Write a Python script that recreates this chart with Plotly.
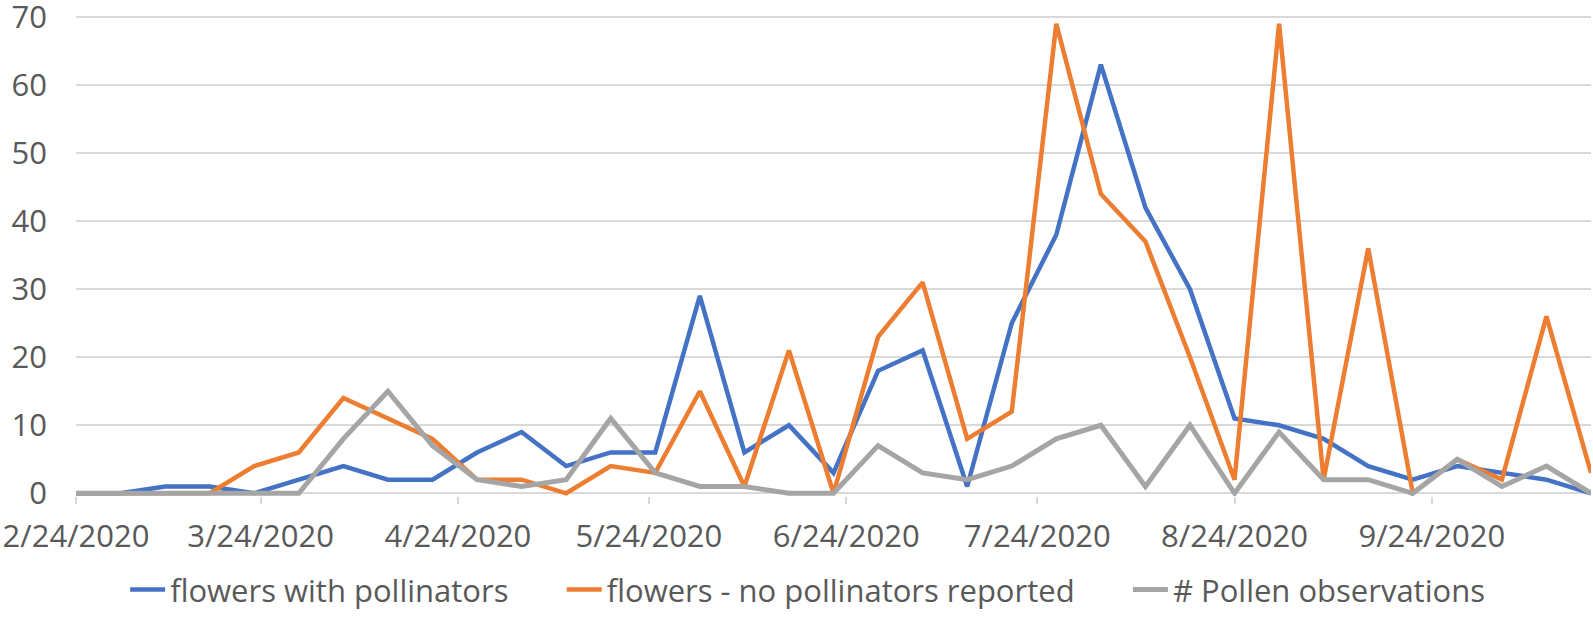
import plotly.graph_objects as go

dates = ["2020-02-24", "2020-03-02", "2020-03-09", "2020-03-16", "2020-03-23", "2020-03-30",
         "2020-04-06", "2020-04-13", "2020-04-20", "2020-04-27", "2020-05-04", "2020-05-11",
         "2020-05-18", "2020-05-25", "2020-06-01", "2020-06-08", "2020-06-15", "2020-06-22",
         "2020-06-29", "2020-07-06", "2020-07-13", "2020-07-20", "2020-07-27", "2020-08-03",
         "2020-08-10", "2020-08-17", "2020-08-24", "2020-08-31", "2020-09-07", "2020-09-14",
         "2020-09-21", "2020-09-28", "2020-10-05", "2020-10-12", "2020-10-19"]

with_pollinators = [0, 0, 1, 1, 0, 2, 4, 2, 2, 6, 9, 4, 6, 6, 29, 6, 10, 3, 18, 21,
                    1, 25, 38, 63, 42, 30, 11, 10, 8, 4, 2, 4, 3, 2, 0]
no_pollinators = [0, 0, 0, 0, 4, 6, 14, 11, 8, 2, 2, 0, 4, 3, 15, 1, 21, 0, 23, 31,
                  8, 12, 69, 44, 37, 20, 2, 69, 2, 36, 0, 5, 2, 26, 3]
pollen_obs = [0, 0, 0, 0, 0, 0, 8, 15, 7, 2, 1, 2, 11, 3, 1, 1, 0, 0, 7, 3,
              2, 4, 8, 10, 1, 10, 0, 9, 2, 2, 0, 5, 1, 4, 0]

tick_dates = ["2020-02-24", "2020-03-24", "2020-04-24", "2020-05-24",
              "2020-06-24", "2020-07-24", "2020-08-24", "2020-09-24"]
tick_labels = ["2/24/2020", "3/24/2020", "4/24/2020", "5/24/2020",
               "6/24/2020", "7/24/2020", "8/24/2020", "9/24/2020"]

series_names = ["flowers with pollinators", "flowers - no pollinators reported", "# Pollen observations"]
series_values = [with_pollinators, no_pollinators, pollen_obs]
series_colors = ["#4472C4", "#ED7D31", "#A5A5A5"]
series_widths = [4.5, 4.5, 5]

pad = "\u00a0" * 6
fig = go.Figure()
for i, (name, vals, color, w) in enumerate(zip(series_names, series_values, series_colors, series_widths)):
    label = name + (pad if i < len(series_names) - 1 else "")
    fig.add_trace(go.Scatter(
        x=dates, y=vals, name=label, mode="lines",
        line=dict(color=color, width=w, shape="linear"),
    ))

font_family = "Open Sans"
fig.update_layout(
    width=1593, height=621,
    paper_bgcolor="white", plot_bgcolor="white",
    margin=dict(l=76, r=2, t=15, b=125),
    font=dict(family=font_family, size=31, color="#595959"),
    showlegend=True,
    legend=dict(orientation="h", xref="container", x=0.507, xanchor="center",
                yref="container", y=0.05, yanchor="middle",
                font=dict(size=31, color="#595959"),
                itemwidth=35, tracegroupgap=0),
)
fig.update_xaxes(
    type="date", range=["2020-02-24", "2020-10-19"],
    tickvals=tick_dates, ticktext=tick_labels, automargin=False,
    showgrid=False, zeroline=False, showline=False,
    ticks="outside", ticklen=7, tickcolor="#D9D9D9", tickwidth=1.5,
    ticklabelstandoff=6, ticklabeloverflow="allow",
    tickfont=dict(size=31, color="#595959"),
)
fig.update_yaxes(
    range=[-0.4, 70.3], tickvals=[0, 10, 20, 30, 40, 50, 60, 70], automargin=False,
    showgrid=True, gridcolor="#D9D9D9", gridwidth=1.5,
    zeroline=True, zerolinecolor="#D9D9D9", zerolinewidth=1.5,
    showline=False, ticks="", ticklabelstandoff=28, ticklabeloverflow="allow",
    tickfont=dict(size=31, color="#595959"),
)

fig.write_html("out.html", config={"displayModeBar": False},
               post_script="document.body.style.margin='0';document.body.style.overflow='hidden';")
